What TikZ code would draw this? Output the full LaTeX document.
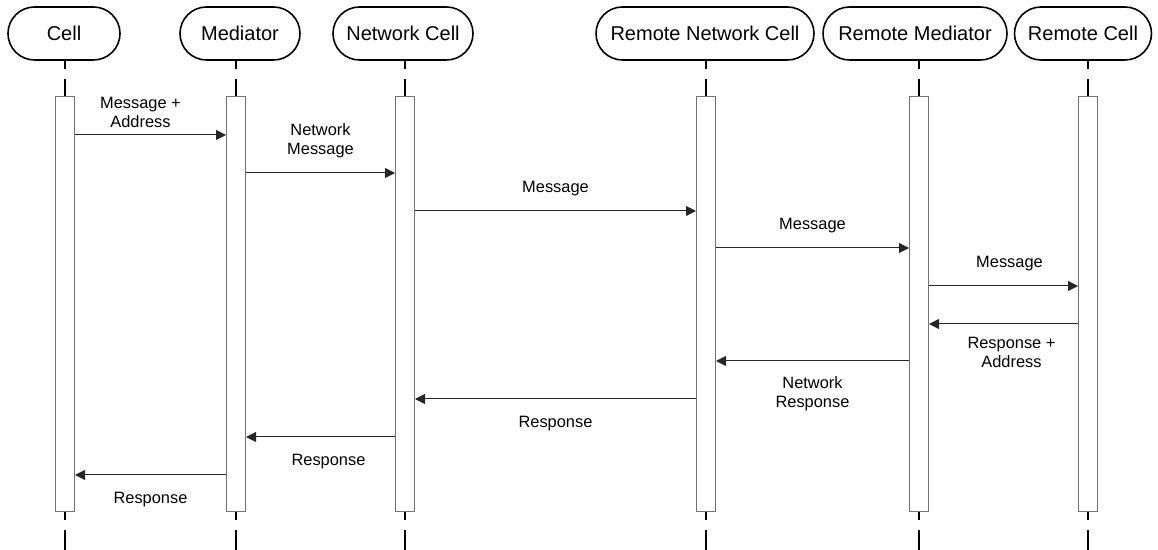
\documentclass[tikz,border=0pt]{standalone}
\usepackage{fontspec}
\setmainfont{Liberation Sans}
\usetikzlibrary{arrows.meta}

\begin{document}
\begin{tikzpicture}[x=0.5pt,y=-0.5pt,
  actor/.style={draw,line width=0.8pt,rounded corners=13.25pt,minimum height=26.5pt,
    inner xsep=6pt,font=\fontsize{10}{12}\selectfont},
  bar/.style={draw=black!55,fill=white,line width=0.5pt,minimum width=9.5pt,
    minimum height=207.5pt,inner sep=0pt},
  life/.style={line width=1pt,dash pattern=on 4pt off 5pt on 20pt},
  msg/.style={-{Triangle[length=5pt,width=5pt]},line width=0.5pt,black!85},
  lbl/.style={font=\fontsize{8.2}{9.5}\selectfont,align=center,text=black}]
  \useasboundingbox (0,0) rectangle (1158,550);

  % heads
  \node[actor,minimum width=56pt]   (cell)  at (64,33.5)   {Cell};
  \node[actor,minimum width=60pt]   (med)   at (240,33.5)  {Mediator};
  \node[actor,minimum width=70pt]   (net)   at (403,33.5)  {Network Cell};
  \node[actor,minimum width=109pt]  (rnet)  at (705,33.5)  {Remote Network Cell};
  \node[actor,minimum width=92pt]   (rmed)  at (915,33.5)  {Remote Mediator};
  \node[actor,minimum width=68.5pt] (rcell) at (1083,33.5) {Remote Cell};

  % activation bars
  \node[bar] (bcell)  at (65,304.5)   {};
  \node[bar] (bmed)   at (236,304.5)  {};
  \node[bar] (bnet)   at (405,304.5)  {};
  \node[bar] (brnet)  at (706,304.5)  {};
  \node[bar] (brmed)  at (919,304.5)  {};
  \node[bar] (brcell) at (1088,304.5) {};

  % lifelines
  \coordinate (bottom) at (0,550);
  \foreach \n in {cell,med,net,rnet,rmed,rcell}{
    \draw[life] (\n.south -| b\n.north) -- (b\n.north);
    \draw[life] (b\n.south) -- (b\n.south |- bottom);
  }

  % message heights
  \foreach \i/\y in {1/135,2/173,3/211,4/248,5/286,6/324,7/361,8/399,9/437,10/475}
    \coordinate (m\i) at (0,\y);

  \draw[msg] (bcell.east |- m1) -- node[lbl,above=0pt,xshift=-5pt] {Message +\\Address} (bmed.west |- m1);
  \draw[msg] (bmed.east |- m2) -- node[lbl,above=4pt] {Network\\Message} (bnet.west |- m2);
  \draw[msg] (bnet.east |- m3) -- node[lbl,above=4pt] {Message} (brnet.west |- m3);
  \draw[msg] (brnet.east |- m4) -- node[lbl,above=4pt] {Message} (brmed.west |- m4);
  \draw[msg] (brmed.east |- m5) -- node[lbl,above=4pt,xshift=3pt] {Message} (brcell.west |- m5);
  \draw[msg] (brcell.west |- m6) -- node[lbl,below=3pt,xshift=4pt] {Response +\\Address} (brmed.east |- m6);
  \draw[msg] (brmed.west |- m7) -- node[lbl,below=4pt] {Network\\Response} (brnet.east |- m7);
  \draw[msg] (brnet.west |- m8) -- node[lbl,below=5pt] {Response} (bnet.east |- m8);
  \draw[msg] (bnet.west |- m9) -- node[lbl,below=5pt,xshift=4pt] {Response} (bmed.east |- m9);
  \draw[msg] (bmed.west |- m10) -- node[lbl,below=5pt] {Response} (bcell.east |- m10);
\end{tikzpicture}
\end{document}
